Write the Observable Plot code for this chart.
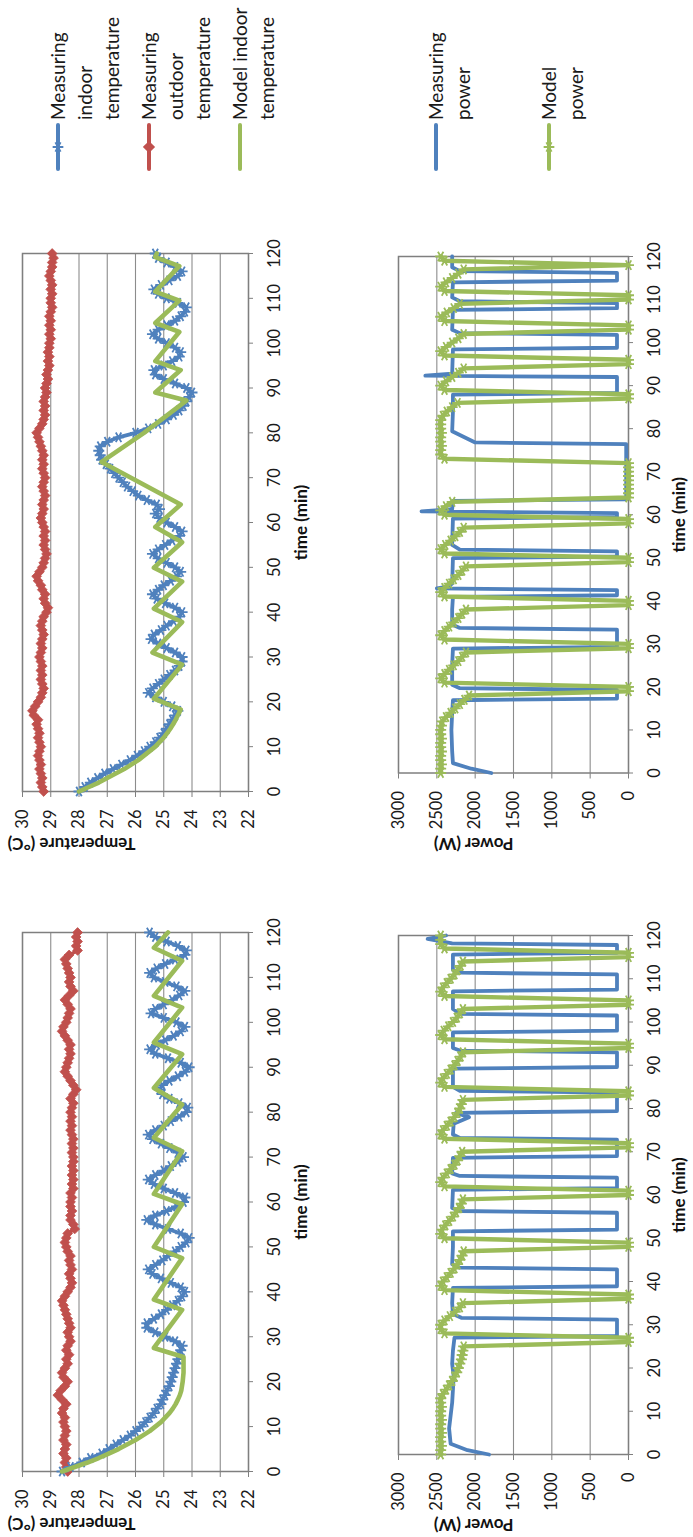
<!DOCTYPE html>
<html><head><meta charset="utf-8">
<script src="https://cdn.jsdelivr.net/npm/d3@7"></script>
<script src="https://cdn.jsdelivr.net/npm/@observablehq/plot@0.6"></script>
<style>
html,body{margin:0;padding:0;width:693px;height:1537px;overflow:hidden;background:#fff;}
#fig{position:absolute;left:0;top:0;width:1537px;height:693px;transform-origin:0 0;transform:translateY(1537px) rotate(-90deg);font-family:Lato,"Open Sans",sans-serif;background:#fff;}
.panel{position:absolute;}
</style></head><body><div id="fig"></div>
<script>
// ---------- data ----------
const timeMin = d3.range(0, 121);            // sampling instants (min)
const timeTicks = [0,10,20,30,40,50,60,70,80,90,100,110,120];
const tempTicks = [22,23,24,25,26,27,28,29,30];
const powerTicks = [0,500,1000,1500,2000,2500,3000];

// Scenario A (left pair in the landscape figure)
const tempOutA = [28.40,28.45,28.50,28.45,28.55,28.50,28.45,28.55,28.50,28.45,
 28.50,28.55,28.50,28.60,28.55,28.45,28.60,28.75,28.65,28.50,
 28.40,28.55,28.60,28.50,28.40,28.45,28.35,28.45,28.40,28.30,
 28.35,28.40,28.30,28.35,28.40,28.45,28.50,28.55,28.60,28.50,
 28.40,28.30,28.25,28.30,28.35,28.25,28.30,28.35,28.30,28.40,
 28.45,28.50,28.45,28.40,28.15,28.20,28.30,28.30,28.25,28.30,
 28.30,28.25,28.30,28.20,28.25,28.20,28.25,28.20,28.25,28.20,
 28.20,28.25,28.20,28.25,28.20,28.25,28.30,28.25,28.30,28.25,
 28.30,28.25,28.20,28.30,28.20,28.10,28.20,28.30,28.40,28.50,
 28.45,28.40,28.35,28.30,28.35,28.30,28.40,28.50,28.60,28.55,
 28.45,28.40,28.35,28.30,28.40,28.50,28.35,28.20,28.30,28.35,
 28.30,28.35,28.40,28.45,28.50,28.35,28.05,28.10,28.05,28.10,
 28.05];
const tempInA = [28.6,28.3,27.9,27.6,27.2,26.95,26.7,26.45,26.2,26.0,
 25.8,25.65,25.5,25.35,25.25,25.1,25.05,24.95,24.9,24.8,
 24.75,24.7,24.65,24.6,24.55,24.5,24.45,24.4,24.35,24.6,
 24.95,25.3,25.6,25.6,25.35,25.1,24.9,24.7,24.5,24.35,
 24.25,24.4,24.75,25.1,25.4,25.55,25.3,25.05,24.85,24.6,
 24.4,24.2,24.1,24.4,24.85,25.3,25.6,25.3,24.9,24.55,
 24.3,24.25,24.6,25.0,25.35,25.55,25.3,25.0,24.75,24.5,
 24.3,24.5,24.8,25.1,25.4,25.55,25.3,25.0,24.75,24.45,
 24.2,24.15,24.45,24.8,25.05,25.15,25.05,24.8,24.5,24.25,
 24.1,24.4,24.85,25.3,25.5,25.25,24.95,24.65,24.4,24.25,
 24.55,25.0,25.45,25.3,25.0,24.7,24.45,24.25,24.55,24.95,
 25.35,25.5,25.25,24.95,24.6,24.25,24.2,24.5,24.9,25.3,
 25.5];
const tempModelAT = [0,1,2,3,4,5,6,7,8,9,10,11,12,13,14,15,16,17,18,20,22,25.5,27.5,36,38.3,47.5,50,59.5,61.8,71.3,74.3,81.7,85.4,92.9,95.5,103.3,105.9,113.7,116.6,120];
const tempModelAV = [28.6,28.15,27.7,27.3,26.95,26.6,26.3,26.0,25.75,25.5,25.3,25.1,24.95,24.8,24.68,24.58,24.5,24.43,24.38,24.33,24.3,24.3,25.35,24.35,25.35,24.35,25.35,24.35,25.35,24.35,25.35,24.35,25.35,24.35,25.35,24.35,25.35,24.35,25.35,24.85];
const powerModelA = [2450,2450,2440,2450,2450,2440,2450,2450,2440,2450,
 2450,2440,2450,2450,2420,2380,2340,2300,2270,2240,
 2220,2200,2180,2170,2160,2150,0,0,2400,2450,
 2450,2400,2330,2260,2200,2160,0,0,2400,2450,
 2420,2370,2320,2270,2230,2200,2170,2150,0,0,
 2400,2450,2430,2390,2340,2290,2250,2210,2180,2160,
 0,0,2400,2450,2420,2370,2320,2270,2230,2200,
 2170,0,0,2400,2450,2420,2370,2320,2270,2230,
 2200,2180,2160,0,0,2400,2450,2420,2370,2320,
 2270,2230,2190,2160,0,0,2400,2450,2410,2350,
 2290,2240,2200,2160,0,0,2400,2450,2420,2370,
 2320,2270,2230,2190,2160,0,0,2400,2450,2450,
 2450];
const powerMeasAT = [0,1,2.5,6,9,12,15,18,21,24,27,27.4,31.2,31.6,32.5,35,38.5,38.9,42.8,43.2,44,48,51.6,52,55.9,56.3,57,61.2,61.6,64,64.4,65,68.6,69,72.8,73.2,74,76.5,78,79,79.4,83.7,84.1,85,89.2,89.6,93,93.4,94,97.6,98,101.5,101.9,103,107.1,107.5,111,111.4,112,115.6,116,117.8,118.2,119.2,120];
const powerMeasAV = [1820,2100,2320,2340,2320,2300,2290,2280,2300,2290,2270,150,150,2180,2290,2300,2290,150,150,2200,2300,2290,2290,150,150,2200,2300,2290,150,150,2200,2300,2290,150,150,2200,2290,2280,2080,2250,150,150,2200,2290,2290,150,150,2200,2290,2290,150,150,2200,2290,2290,150,150,2200,2290,2290,150,150,2300,2620,2380];

// Scenario B (right pair in the landscape figure)
const tempOutB = [29.25,29.30,29.35,29.30,29.35,29.40,29.35,29.40,29.45,29.40,
 29.35,29.40,29.45,29.40,29.45,29.50,29.45,29.60,29.65,29.55,
 29.45,29.35,29.30,29.25,29.30,29.35,29.30,29.35,29.30,29.35,
 29.40,29.35,29.30,29.35,29.30,29.25,29.30,29.35,29.30,29.25,
 29.15,29.10,29.20,29.25,29.20,29.30,29.35,29.45,29.50,29.40,
 29.30,29.25,29.20,29.15,29.20,29.25,29.20,29.25,29.20,29.25,
 29.30,29.35,29.30,29.25,29.30,29.25,29.20,29.25,29.30,29.25,
 29.20,29.25,29.30,29.25,29.30,29.25,29.30,29.35,29.40,29.45,
 29.50,29.40,29.30,29.25,29.20,29.25,29.20,29.25,29.20,29.15,
 29.20,29.15,29.10,29.15,29.10,29.05,29.10,29.05,29.10,29.05,
 29.05,29.00,29.05,29.00,29.05,29.00,29.05,29.00,28.95,29.00,
 29.00,28.95,29.00,28.95,29.00,29.05,29.00,28.95,28.95,28.90,
 28.95];
const tempInB = [28.0,27.8,27.6,27.35,27.1,26.8,26.5,26.2,25.95,25.7,
 25.5,25.3,25.15,25.0,24.9,24.8,24.7,24.6,24.5,24.7,
 25.0,25.3,25.55,25.4,25.2,25.0,24.8,24.6,24.45,24.35,
 24.35,24.6,24.9,25.2,25.45,25.35,25.1,24.9,24.65,24.45,
 24.35,24.6,24.95,25.25,25.4,25.2,25.0,24.75,24.55,24.4,
 24.6,24.9,25.2,25.4,25.2,24.95,24.7,24.45,24.35,24.6,
 24.9,25.15,25.3,25.15,25.25,25.6,25.9,26.1,26.3,26.45,
 26.6,26.75,26.9,27.05,27.2,27.25,27.3,27.25,27.0,26.6,
 26.0,25.55,25.2,24.9,24.65,24.45,24.3,24.2,24.1,24.0,
 24.2,24.6,25.0,25.3,25.35,25.0,24.7,24.45,24.4,24.6,
 24.9,25.2,25.4,25.2,24.9,24.6,24.4,24.25,24.2,24.5,
 24.9,25.2,25.35,25.1,24.8,24.5,24.35,24.6,24.9,25.2,
 25.3];
const tempModelBT = [0,1,2,3,4,5,6,7,8,9,10,11,12,13,14,15,16,17,18.3,20.7,28.3,31,37.8,40.8,46.8,49.9,55.6,59,64,73.5,80,87.2,89,94,96,102.5,104.5,109.5,111.5,117.2,119.2,120];
const tempModelBV = [28.0,27.65,27.3,27.0,26.7,26.4,26.15,25.9,25.7,25.5,25.3,25.15,25.0,24.88,24.77,24.67,24.58,24.5,24.4,25.35,24.35,25.4,24.35,25.35,24.35,25.35,24.35,25.3,24.4,27.2,25.7,24.2,25.3,24.4,25.3,24.45,25.3,24.45,25.3,24.45,25.3,25.25];
const powerModelB = [2450,2450,2440,2450,2450,2440,2450,2450,2440,2450,
 2450,2440,2430,2380,2320,2260,2200,2140,2080,0,
 0,2400,2450,2400,2340,2280,2220,2170,2120,0,
 0,2400,2450,2400,2340,2280,2220,2170,2120,0,
 0,2400,2450,2400,2340,2280,2220,2170,2120,0,
 0,2400,2450,2390,2320,2260,2200,2150,0,0,
 2400,2450,2380,2300,0,0,0,0,0,0,
 0,0,0,2400,2450,2450,2440,2450,2450,2440,
 2450,2450,2450,2420,2370,2300,2230,0,0,2400,
 2450,2380,2300,2220,2150,0,0,2400,2450,2380,
 2300,2220,2150,0,0,2400,2450,2370,2280,2200,
 0,0,2400,2450,2380,2300,2220,2150,0,2400,
 2450];
const powerMeasBT = [0,1,2.3,5,10,14,16.9,17.3,19.3,19.7,20.5,25,28.9,29.3,33.3,33.7,34.5,38,40.9,41.3,42.5,42.9,43.3,44,49.9,50.3,51.5,51.9,53,59.1,59.5,60.4,60.8,61.3,63.2,63.6,76.4,76.8,79.4,84,87.9,88.3,92,92.3,92.8,98.4,98.8,101.8,102.2,103,107.6,108,109.2,109.6,110.5,114,114.4,116.2,116.6,117.5,120];
const powerMeasBV = [1790,2050,2290,2300,2310,2300,2290,150,150,2200,2300,2300,2290,150,150,2200,2300,2300,2290,150,150,2500,2350,2300,2290,150,150,2200,2300,2290,150,150,2700,2300,2290,30,30,2000,2300,2290,2290,150,150,2650,2300,2290,150,150,2200,2300,2290,150,150,2200,2300,2290,150,150,2200,2300,2300];

// ---------- styling ----------
const BLUE = "#4f81bd", RED = "#c0504d", GREEN = "#9bbb59";
const FONT = "Lato, 'Open Sans', sans-serif";
const TICK_FS = 16.5, TITLE_FS = 17;

const pairs = (ts, vs) => ts.map((t, i) => ({t, v: vs[i]}));

function commonAxes(yTicks, yTitle, titleDx, xTitleDy) {
  return [
    Plot.gridY(yTicks, {stroke: "#8c8c8c", strokeOpacity: 1, strokeWidth: 1.1}),
    Plot.frame({stroke: "#7f7f7f", strokeWidth: 1.5}),
    Plot.axisX(timeTicks, {tickSize: 5, tickPadding: 15, fontSize: TICK_FS, stroke: "#7f7f7f", fill: "#1a1a1a", label: null, tickFormat: d => String(d)}),
    Plot.axisY(yTicks, {tickSize: 5, tickPadding: 13, fontSize: TICK_FS, stroke: "#7f7f7f", fill: "#1a1a1a", label: null, tickFormat: d => String(d)}),
    Plot.text(["time (min)"], {text: d => d, frameAnchor: "bottom", dy: xTitleDy, fontWeight: "bold", fontSize: TITLE_FS, fill: "#111"}),
    Plot.text([yTitle], {text: d => d, frameAnchor: "left", dx: titleDx, rotate: -90, fontWeight: "bold", fontSize: TITLE_FS, fill: "#111"})
  ];
}

function tempChart(inV, outV, modT, modV, ml, mr) {
  const meas = pairs(timeMin, inV), out = pairs(timeMin, outV), mod = pairs(modT, modV);
  return Plot.plot({
    width: 660, height: 330, marginLeft: ml, marginRight: mr, marginTop: 22, marginBottom: 82,
    style: {fontFamily: FONT, background: "transparent", color: "#1a1a1a"},
    x: {domain: [0, 120]}, y: {domain: [22, 30]},
    marks: [
      ...commonAxes(tempTicks, "Temperature (°C)", -52, 58),
      Plot.line(out, {x: "t", y: "v", stroke: RED, strokeWidth: 3.5}),
      Plot.dot(out, {x: "t", y: "v", symbol: "diamond2", r: 4.4, fill: RED, stroke: RED, strokeWidth: 0.8}),
      Plot.line(meas, {x: "t", y: "v", stroke: BLUE, strokeWidth: 3.8}),
      Plot.dot(meas, {x: "t", y: "v", symbol: "asterisk", r: 5.2, stroke: BLUE, strokeWidth: 1.8}),
      Plot.line(mod, {x: "t", y: "v", stroke: GREEN, strokeWidth: 4.6})
    ]
  });
}

function powerChart(modV, measT, measV, ml, mr, titleDx) {
  const mod = pairs(timeMin, modV), meas = pairs(measT, measV);
  return Plot.plot({
    width: 660, height: 363, marginLeft: ml, marginRight: mr, marginTop: 68, marginBottom: 65,
    style: {fontFamily: FONT, background: "transparent", color: "#1a1a1a"},
    x: {domain: [0, 120]}, y: {domain: [0, 3000]},
    marks: [
      ...commonAxes(powerTicks, "Power (W)", titleDx, 56),
      Plot.line(meas, {x: "t", y: "v", stroke: BLUE, strokeWidth: 3.8}),
      Plot.line(mod, {x: "t", y: "v", stroke: GREEN, strokeWidth: 4.4}),
      Plot.dot(mod, {x: "t", y: "v", symbol: "asterisk", r: 5.2, stroke: GREEN, strokeWidth: 1.8})
    ]
  });
}

const fig = document.getElementById("fig");
function place(node, left, top) {
  node.classList.add("panel");
  node.style.left = left + "px";
  node.style.top = top + "px";
  fig.appendChild(node);
}
place(tempChart(tempInA, tempOutA, tempModelAT, tempModelAV, 65, 56), 0, 0);
place(tempChart(tempInB, tempOutB, tempModelBT, tempModelBV, 65, 57), 680, 0);
place(powerChart(powerModelA, powerMeasAT, powerMeasAV, 82, 59, -70), 0, 330);
place(powerChart(powerModelB, powerMeasBT, powerMeasBV, 83.5, 60, -70.5), 680, 330);

// ---------- legend ----------
const legendItems = [
  {y: 58, color: BLUE, sym: d3.symbolAsterisk, fill: false, lines: ["Measuring", "indoor", "temperature"]},
  {y: 149, color: RED, sym: d3.symbolDiamond2, fill: true, lines: ["Measuring", "outdoor", "temperature"]},
  {y: 240, color: GREEN, sym: null, lines: ["Model indoor", "temperature"]},
  {y: 436, color: BLUE, sym: null, lines: ["Measuring", "power"]},
  {y: 549, color: GREEN, sym: d3.symbolAsterisk, fill: false, lines: ["Model", "power"]}
];
const leg = d3.create("svg").attr("width", 247).attr("height", 693).style("overflow", "visible");
const g = leg.selectAll("g").data(legendItems).join("g").attr("transform", d => `translate(0,${d.y})`);
g.append("line").attr("x1", 78).attr("x2", 122).attr("stroke", d => d.color).attr("stroke-width", 4).attr("stroke-linecap", "round");
g.filter(d => d.sym).append("path")
  .attr("transform", "translate(100,0)")
  .attr("d", d => d3.symbol(d.sym, d.fill ? 60 : 80)())
  .attr("fill", d => d.fill ? d.color : "none")
  .attr("stroke", d => d.color).attr("stroke-width", 1.8);
g.each(function(d) {
  const sel = d3.select(this);
  d.lines.forEach((s, i) => {
    sel.append("text").attr("x", 127).attr("y", i * 27).attr("dy", "0.35em")
      .attr("font-family", FONT).attr("font-size", 19).attr("fill", "#1a1a1a").text(s);
  });
});
place(leg.node(), 1290, 0);
</script>
</body></html>
